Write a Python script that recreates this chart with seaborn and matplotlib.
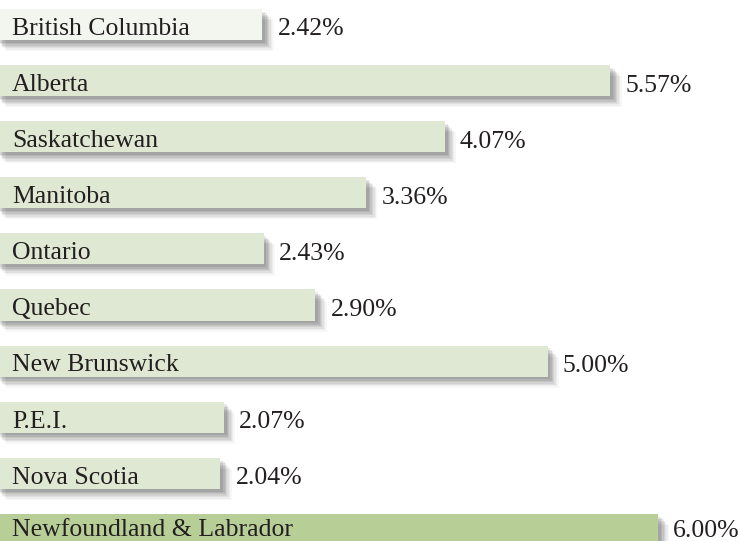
import matplotlib
matplotlib.use("Agg")
import matplotlib.pyplot as plt
import matplotlib.patheffects as pe
import seaborn as sns
import pandas as pd

provinces = ["British Columbia", "Alberta", "Saskatchewan", "Manitoba", "Ontario",
             "Quebec", "New Brunswick", "P.E.I.", "Nova Scotia", "Newfoundland & Labrador"]
values = [2.42, 5.57, 4.07, 3.36, 2.43, 2.90, 5.00, 2.07, 2.04, 6.00]
value_labels = ["2.42%", "5.57%", "4.07%", "3.36%", "2.43%", "2.90%", "5.00%", "2.07%", "2.04%", "6.00%"]
colors = ["#f3f6ee", "#dfe8d2", "#dfe8d2", "#dfe8d2", "#dfe8d2",
          "#dfe8d2", "#dfe8d2", "#dfe8d2", "#dfe8d2", "#b7ce97"]

df = pd.DataFrame({"province": provinces, "value": values})

sns.set_theme(style="white")
plt.rcParams["font.family"] = ["Liberation Serif", "DejaVu Serif"]

fig = plt.figure(figsize=(7.40, 5.41), dpi=100)
ax = fig.add_axes([0, 0, 1, 1])

sns.barplot(data=df, y="province", x="value", hue="province", palette=colors,
            orient="h", width=0.553, legend=False, ax=ax, saturation=1,
            linewidth=0, zorder=3)

shadow = [pe.SimplePatchShadow(offset=(o, -o), shadow_rgbFace="black", alpha=a)
          for o, a in [(8, 0.03), (7, 0.04), (6, 0.05), (5, 0.06), (4, 0.07), (3, 0.08), (2, 0.08)]] + [pe.Normal()]
for p in ax.patches:
    p.set_path_effects(shadow)

px = 110.5
ax.set_xlim(5 / px, 745 / px)
pitch = 56.1
ax.set_ylim((541 - 24.5) / pitch, -24.5 / pitch)

n = len(provinces)
for i, (name, v, lab) in enumerate(zip(provinces, values, value_labels)):
    dy = 0.125 if i == n - 1 else 0.185
    ax.text(17 / px, i + dy, name, ha="left", va="baseline",
            fontsize=18.5, color="#231f20", zorder=5, family="Liberation Serif")
    ax.text(v + 15 / px, i + dy + 0.01, lab, ha="left", va="baseline",
            fontsize=18.5, color="#231f20", zorder=5, family="Liberation Serif")

ax.set_axis_off()
fig.savefig("out.png", dpi=100)
